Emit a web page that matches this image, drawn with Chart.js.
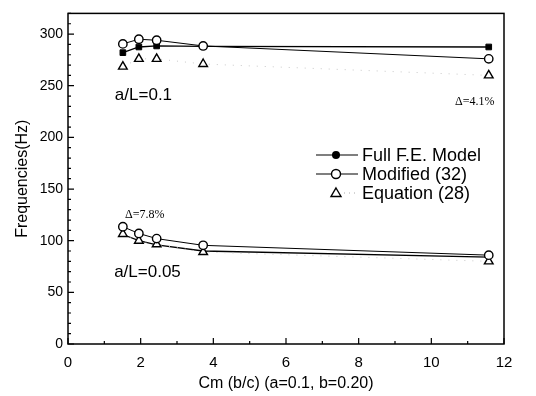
<!DOCTYPE html>
<html><head><meta charset="utf-8">
<script src="https://cdn.jsdelivr.net/npm/chart.js@4/dist/chart.umd.min.js"></script>
<style>html,body{margin:0;padding:0;background:#fff}</style>
</head><body>
<canvas id="c" width="536" height="396"></canvas>
<script>
// ---- data ----
const cmValues = [1.51, 1.95, 2.44, 3.72, 11.58];
const fullFE_aL01 = [282, 287.5, 288.5, 288, 287.5];
const modified_aL01 = [290.5, 295, 294, 288.5, 276];
const equation_aL01 = [268.5, 276, 276, 271, 260];
const fullFE_aL005 = [106, 100, 96, 90, 84];
const modified_aL005 = [113.5, 107, 102, 95.5, 86];
const equation_aL005 = [106.5, 100, 96.5, 89, 80];
const seriesNames = ['Full F.E. Model', 'Modified (32)', 'Equation (28)'];
const xTitle = 'Cm (b/c) (a=0.1, b=0.20)';
const yTitle = 'Frequencies(Hz)';

const SANS = '"Liberation Sans", Arial, sans-serif';
const SERIF = '"Liberation Serif", "Times New Roman", serif';

function pts(ys){ return cmValues.map((x,i)=>({x:x, y:ys[i]})); }

const fullStyle = {borderColor:'#000', borderWidth:1.3, pointStyle:'rect', pointRadius:4, pointBackgroundColor:'#000', pointBorderColor:'#000', pointBorderWidth:1, order:3};
const modStyle = {borderColor:'#000', borderWidth:1, pointStyle:'circle', pointRadius:4.2, pointBackgroundColor:'#fff', pointBorderColor:'#000', pointBorderWidth:1.4, order:1};
const eqStyle = {borderColor:'#c8c8c8', borderWidth:1, borderDash:[1,7], pointStyle:'triangle', pointRadius:5, pointBackgroundColor:'#fff', pointBorderColor:'#000', pointBorderWidth:1.4, order:2};

const datasets = [
  Object.assign({label:seriesNames[0], data:pts(fullFE_aL01)}, fullStyle),
  Object.assign({label:seriesNames[1], data:pts(modified_aL01)}, modStyle),
  Object.assign({label:seriesNames[2], data:pts(equation_aL01)}, eqStyle),
  Object.assign({label:seriesNames[0], data:pts(fullFE_aL005)}, fullStyle, {pointRadius:0}),
  Object.assign({label:seriesNames[1], data:pts(modified_aL005)}, modStyle),
  Object.assign({label:seriesNames[2], data:pts(equation_aL005)}, eqStyle),
];

const annotations = [
  {text:'a/L=0.1', x:1.29, y:236, font:'17px '+SANS},
  {text:'a/L=0.05', x:1.27, y:65, font:'17px '+SANS},
  {text:'\u0394=7.8%', x:1.57, y:122, font:'12px '+SERIF},
  {text:'\u0394=4.1%', x:10.65, y:231, font:'12px '+SERIF},
];

const framePlugin = {
  id:'frame',
  afterDraw(chart){
    const {ctx, chartArea:a, scales:{x, y}} = chart;
    ctx.save();
    ctx.strokeStyle = '#000';
    ctx.lineWidth = 1.5;
    ctx.strokeRect(a.left, a.top, a.right - a.left, a.bottom - a.top);
    ctx.lineWidth = 1.2;
    ctx.beginPath();
    for (let v = 0; v <= 12; v += 1) {
      const px = x.getPixelForValue(v);
      const len = v % 2 === 0 ? 6 : 3;
      ctx.moveTo(px, a.bottom); ctx.lineTo(px, a.bottom - len);
    }
    for (let v = 0; v <= 320; v += 10) {
      const py = y.getPixelForValue(v);
      const len = v % 50 === 0 ? 6 : 3;
      ctx.moveTo(a.left, py); ctx.lineTo(a.left + len, py);
    }
    ctx.stroke();
    // annotations
    ctx.fillStyle = '#000';
    ctx.textBaseline = 'alphabetic';
    ctx.textAlign = 'left';
    annotations.forEach(an => {
      ctx.font = an.font;
      ctx.fillText(an.text, x.getPixelForValue(an.x), y.getPixelForValue(an.y));
    });
    // legend
    const lx0 = 316, lx1 = 358, mx = 336, tx = 362;
    const rows = [155, 174, 193];
    ctx.font = '18px ' + SANS;
    ctx.textBaseline = 'middle';
    rows.forEach((ry, i) => {
      ctx.save();
      if (i < 2) {
        ctx.strokeStyle = '#000'; ctx.lineWidth = 1.2;
        ctx.beginPath(); ctx.moveTo(lx0, ry); ctx.lineTo(lx1, ry); ctx.stroke();
      } else {
        ctx.strokeStyle = '#aaa'; ctx.lineWidth = 1; ctx.setLineDash([1,4]);
        ctx.beginPath(); ctx.moveTo(mx + 8, ry); ctx.lineTo(lx1, ry); ctx.stroke();
      }
      ctx.restore();
      ctx.lineWidth = 1.4; ctx.strokeStyle = '#000';
      if (i === 0) {
        ctx.fillStyle = '#000';
        ctx.beginPath(); ctx.arc(mx, ry, 4, 0, Math.PI*2); ctx.fill();
      } else if (i === 1) {
        ctx.fillStyle = '#fff';
        ctx.beginPath(); ctx.arc(mx, ry, 4.5, 0, Math.PI*2); ctx.fill(); ctx.stroke();
      } else {
        ctx.fillStyle = '#fff';
        ctx.beginPath(); ctx.moveTo(mx, ry - 5); ctx.lineTo(mx + 5, ry + 3.5); ctx.lineTo(mx - 5, ry + 3.5); ctx.closePath(); ctx.fill(); ctx.stroke();
      }
      ctx.fillStyle = '#000';
      ctx.fillText(seriesNames[i], tx, ry + 1);
    });
    ctx.restore();
  }
};

new Chart(document.getElementById('c'), {
  type:'line',
  data:{datasets},
  plugins:[framePlugin],
  options:{
    responsive:false,
    animation:false,
    devicePixelRatio:1,
    layout:{padding:{top:10, right:32, left:0, bottom:0}},
    plugins:{legend:{display:false}, tooltip:{enabled:false}},
    elements:{line:{tension:0}},
    scales:{
      x:{
        type:'linear', min:0, max:12,
        grid:{display:false, drawTicks:false},
        border:{display:false},
        ticks:{stepSize:2, padding:10, color:'#000', font:{family:SANS, size:15}},
        title:{display:true, text:xTitle, color:'#000', font:{family:SANS, size:16}, padding:{top:0, bottom:3}},
        afterFit(s){ s.height = 52; }
      },
      y:{
        type:'linear', min:0, max:320,
        grid:{display:false, drawTicks:false},
        border:{display:false},
        ticks:{stepSize:50, includeBounds:false, padding:5, color:'#000', font:{family:SANS, size:14}},
        title:{display:true, text:yTitle, color:'#000', font:{family:SANS, size:16}, padding:{top:13, bottom:0}},
        afterFit(s){ s.width = 68; }
      }
    }
  }
});
</script>
</body></html>
